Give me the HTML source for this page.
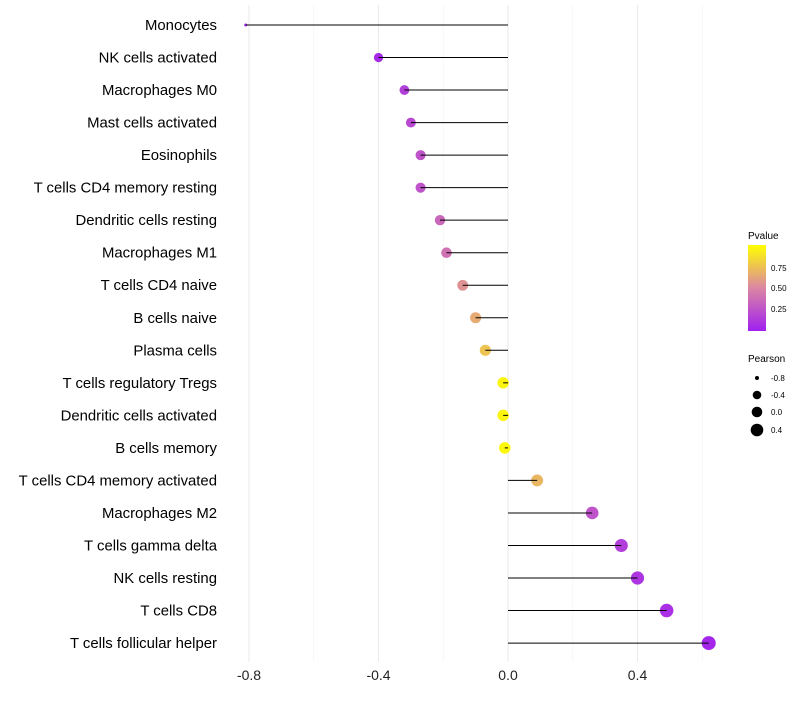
<!DOCTYPE html>
<html><head><meta charset="utf-8"><style>
body{margin:0;background:#fff;font-family:"Liberation Sans",sans-serif}
svg text{font-family:"Liberation Sans",sans-serif}
</style></head><body>
<svg id="chart" width="800" height="700">
<defs><linearGradient id="pg" x1="0" y1="1" x2="0" y2="0">
<stop offset="0" stop-color="#A020F0"/><stop offset="0.5" stop-color="#DB86A3"/><stop offset="1" stop-color="#FFFF00"/>
</linearGradient></defs>
<g id="grid"></g><g id="marks"></g><g id="labels"></g>
<g>
<text x="748" y="239" font-size="10" fill="#000">Pvalue</text>
<rect x="748" y="245" width="18" height="86" fill="url(#pg)"/>
<text x="771" y="271" font-size="8">0.75</text>
<text x="771" y="291" font-size="8">0.50</text>
<text x="771" y="312" font-size="8">0.25</text>
</g>
<g>
<text x="748" y="362" font-size="10">Pearson</text>
<circle cx="757" cy="378" r="2"/><text x="771" y="381" font-size="8">-0.8</text>
<circle cx="757" cy="395" r="4.3"/><text x="771" y="398" font-size="8">-0.4</text>
<circle cx="757" cy="412" r="5.3"/><text x="771" y="415" font-size="8">0.0</text>
<circle cx="757" cy="430" r="6.3"/><text x="771" y="433" font-size="8">0.4</text>
</g>
</svg>
<script>
const cells=["Monocytes","NK cells activated","Macrophages M0","Mast cells activated","Eosinophils","T cells CD4 memory resting","Dendritic cells resting","Macrophages M1","T cells CD4 naive","B cells naive","Plasma cells","T cells regulatory  Tregs ","Dendritic cells activated","B cells memory","T cells CD4 memory activated","Macrophages M2","T cells gamma delta","NK cells resting","T cells CD8","T cells follicular helper"];
const pearson=[-0.81,-0.40,-0.32,-0.30,-0.27,-0.27,-0.21,-0.19,-0.14,-0.10,-0.07,-0.015,-0.015,-0.01,0.09,0.26,0.35,0.40,0.49,0.62];
const pvalue=[0.02,0.05,0.15,0.2,0.25,0.25,0.35,0.4,0.55,0.65,0.75,0.95,0.95,0.97,0.7,0.25,0.15,0.1,0.08,0.03];
const ticks=[-0.8,-0.4,0.0,0.4];
const ns="http://www.w3.org/2000/svg";
const X=v=>508+v*323.75, Y=i=>25+i*32.53;
function col(p){const a=[160,32,240],m=[219,134,163],b=[255,255,0];let c1,c2,t;if(p<0.5){c1=a;c2=m;t=p/0.5}else{c1=m;c2=b;t=(p-0.5)/0.5}
return "rgb("+c1.map((c,k)=>Math.round(c+(c2[k]-c)*t)).join(",")+")";}
function R(v){return 1.5+5.5*Math.pow(Math.max(0,(v+0.81)/1.43),0.45);}
function mk(t,a,p){const e=document.createElementNS(ns,t);for(const k in a)e.setAttribute(k,a[k]);p.appendChild(e);return e;}
const grid=document.getElementById('grid'),marks=document.getElementById('marks'),labels=document.getElementById('labels');
[-0.6,-0.2,0.2,0.6].forEach(v=>{const l=mk('line',{x1:X(v),x2:X(v),y1:5,y2:662,stroke:'#f2f2f2','stroke-width':0.6},grid);

});
ticks.forEach(v=>{const l=mk('line',{x1:X(v),x2:X(v),y1:5,y2:662,stroke:'#ebebeb','stroke-width':1.1},grid);


const t=mk('text',{x:X(v),y:680,'font-size':14,fill:'#222','text-anchor':'middle'},labels);t.textContent=v.toFixed(1);

});
cells.forEach((c,i)=>{const v=pearson[i];
const d=mk('circle',{cx:X(v),cy:Y(i),r:R(v),fill:col(pvalue[i])},marks);


const l=mk('line',{x1:X(0),x2:X(v),y1:Y(i),y2:Y(i),stroke:'#000','stroke-width':1},marks);


const t=mk('text',{x:217,y:Y(i)+5,'font-size':14.9,fill:'#000','text-anchor':'end'},labels);t.textContent=c;

});
</script>
</body></html>
